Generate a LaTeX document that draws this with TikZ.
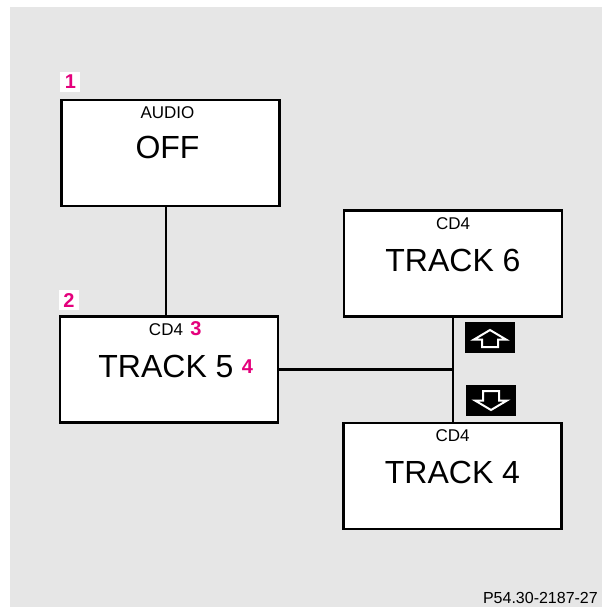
\documentclass[tikz,border=0pt]{standalone}
\usepackage{fontspec}
\setmainfont{Liberation Sans}
\usepackage{xcolor}
\usepackage{tikz}
\usetikzlibrary{
    positioning,
    calc
}
\definecolor{panelgray}{RGB}{230,230,230}
\definecolor{calloutpink}{RGB}{228,0,124}
\tikzstyle{screen} = [draw, fill=white, line width=2.5pt, minimum width=218pt, minimum height=106pt, inner sep=0pt]
\tikzstyle{wire} = [line width=2.2pt]
\tikzstyle{smalltxt} = [font=\fontsize{17}{17}\selectfont, inner sep=0pt, anchor=base]
\tikzstyle{bigtxt} = [font=\fontsize{32}{32}\selectfont, inner sep=0pt, anchor=base]
\tikzstyle{numtag} = [fill=white, text=calloutpink, font=\fontsize{20}{20}\selectfont\bfseries, minimum size=20pt, inner sep=0pt]
\tikzstyle{numtxt} = [text=calloutpink, font=\fontsize{20}{20}\selectfont\bfseries, inner sep=0pt, anchor=base west]
\tikzstyle{keybox} = [fill=black, minimum width=50pt, minimum height=31pt, inner sep=0pt]
\tikzstyle{keyarrow} = [draw=white, fill=black, line width=2pt, line join=miter]

\begin{document}
\begin{tikzpicture}[x=1pt,y=-1pt]
    \useasboundingbox (0,0) rectangle (602,607);
    \fill[white] (0,0) rectangle (602,607);
    \fill[panelgray] (10,7) rectangle (602,607);
    % displays
    \node[screen] (audio) at (170.5,153) {};
    \node[screen] (track5) at (169,369.5) {};
    \node[screen] (track6) at (453,263.5) {};
    \node[screen] (track4) at (452.5,476) {};
    \node[smalltxt] (audiotitle) at ($(audio.north)+(-3,20)$) {AUDIO};
    \node[bigtxt] (off) at ($(audio.north)+(-3,60)$) {OFF};
    \node[smalltxt] (cdb) at ($(track5.north)+(-3,20)$) {CD4};
    \node[bigtxt] (tr5) at ($(track5.north)+(-3,62)$) {TRACK 5};
    \node[smalltxt] (cdc) at ($(track6.north)+(0,20)$) {CD4};
    \node[bigtxt] (tr6) at ($(track6.north)+(0,62)$) {TRACK 6};
    \node[smalltxt] (cdd) at ($(track4.north)+(0,20)$) {CD4};
    \node[bigtxt] (tr4) at ($(track4.north)+(0,62)$) {TRACK 4};
    % callouts
    \node[numtag, above right=7pt and 0pt of audio.north west, anchor=south west] (n1) {1};
    \node[numtag, above right=5pt and 0pt of track5.north west, anchor=south west] (n2) {2};
    \node[numtxt] (n3) at ($(cdb.base east)+(7,0)$) {3};
    \node[numtxt] (n4) at ($(tr5.base east)+(8,-4)$) {4};
    % connections
    \draw[wire] (audio.south -| cdb) -- (track5.north -| cdb);
    \draw[wire] (track5.east) -- (track5.east -| track6.south);
    \draw[wire] (track6.south) -- (track6.south |- track4.north);
    % up / down keys
    \node[keybox] (up) at (490,337.5) {};
    \node[keybox] (down) at (491,400.5) {};
    \draw[keyarrow, shift={(up.center)}] (0,-7.5) -- (16,2) -- (8,2) -- (8,9.5) -- (-8,9.5) -- (-8,2) -- (-16,2) -- cycle;
    \draw[keyarrow, shift={(down.center)}] (0,9.5) -- (16,0) -- (8,0) -- (8,-9.5) -- (-8,-9.5) -- (-8,0) -- (-16,0) -- cycle;
    % figure number
    \node[font=\fontsize{16}{16}\selectfont, inner sep=0pt, anchor=base east] (fignum) at (598,603) {P54.30-2187-27};
\end{tikzpicture}
\end{document}
